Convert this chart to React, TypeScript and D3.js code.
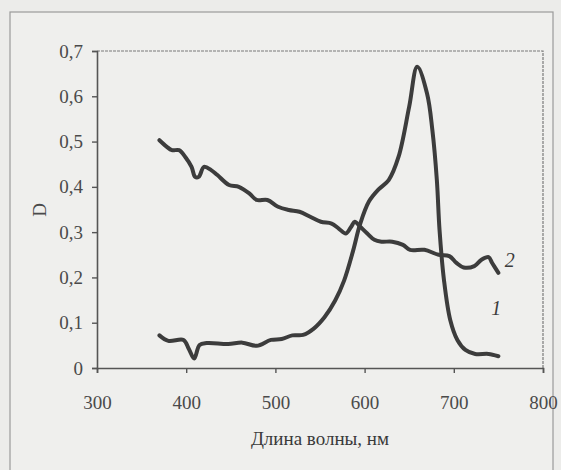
import React, { useRef, useEffect } from 'react';
import * as d3 from 'd3';

// curve 1 (absorption peak)
const wave1 = [370, 380, 397, 403, 409, 415, 423, 447, 463, 479, 495, 507, 519, 531, 543, 555, 567, 577, 587, 595, 605, 616, 627, 638, 650, 659, 670, 676, 681, 684, 689, 696, 704, 713, 724, 739, 750];
const dens1 = [0.072, 0.06, 0.062, 0.042, 0.021, 0.051, 0.055, 0.053, 0.056, 0.049, 0.062, 0.064, 0.072, 0.073, 0.087, 0.112, 0.149, 0.193, 0.258, 0.318, 0.368, 0.395, 0.415, 0.466, 0.577, 0.665, 0.606, 0.525, 0.415, 0.305, 0.194, 0.106, 0.062, 0.04, 0.031, 0.031, 0.026];

// curve 2 (declining)
const wave2 = [370, 378, 384, 392, 399, 406, 410, 414, 420, 428, 435, 448, 459, 471, 479, 491, 503, 515, 527, 539, 551, 563, 571, 579, 585, 589, 595, 603, 611, 619, 631, 643, 651, 667, 683, 695, 703, 711, 723, 731, 739, 743, 750];
const dens2 = [0.503, 0.489, 0.481, 0.481, 0.466, 0.444, 0.422, 0.422, 0.444, 0.437, 0.426, 0.404, 0.4, 0.385, 0.371, 0.371, 0.356, 0.349, 0.345, 0.334, 0.323, 0.319, 0.308, 0.297, 0.312, 0.323, 0.312, 0.297, 0.283, 0.279, 0.279, 0.272, 0.261, 0.261, 0.25, 0.247, 0.232, 0.222, 0.225, 0.239, 0.245, 0.232, 0.21];

const xTicks = [300, 400, 500, 600, 700, 800];
const yTicks = [0, 0.1, 0.2, 0.3, 0.4, 0.5, 0.6, 0.7];

const App = () => {
  const svgRef = useRef<SVGSVGElement>(null);

  useEffect(() => {
    const width = 561;
    const height = 470;
    const left = 97, right = 543, top = 51, bottom = 368;
    const font = 'Liberation Serif, Times New Roman, Tinos, DejaVu Serif, serif';
    const ink = '#3c3c3c';

    const svg = d3.select(svgRef.current);
    svg.selectAll('*').remove();
    svg.attr('width', width).attr('height', height);

    svg.append('rect').attr('width', width).attr('height', height).attr('fill', '#ececea');
    // scan border
    svg.append('rect')
      .attr('x', 10).attr('y', 12).attr('width', 543).attr('height', 470)
      .attr('fill', '#efefed').attr('stroke', '#9a9a9a').attr('stroke-width', 1.2);

    const x = d3.scaleLinear().domain([300, 800]).range([left, right]);
    const y = d3.scaleLinear().domain([0, 0.7]).range([bottom, top]);

    // frame top and right
    svg.append('path')
      .attr('d', `M${left},${top}H${right}V${bottom}`)
      .attr('fill', 'none').attr('stroke', '#7a7a7a').attr('stroke-width', 1.2)
      .attr('stroke-dasharray', '3,1');

    const xAxis = svg.append('g').attr('transform', `translate(0,${bottom})`)
      .call(d3.axisBottom(x).tickValues(xTicks).tickSize(5).tickFormat(d3.format('d')));
    const yAxis = svg.append('g').attr('transform', `translate(${left},0)`)
      .call(d3.axisLeft(y).tickValues(yTicks).tickSize(5)
        .tickFormat(d => (d === 0 ? '0' : d3.format('.1f')(d as number).replace('.', ','))));

    [xAxis, yAxis].forEach(g => {
      g.attr('font-family', font).attr('font-size', 19);
      g.select('.domain').attr('stroke', '#555').attr('stroke-width', 1.6);
      g.selectAll('.tick line').attr('stroke', '#555').attr('stroke-width', 1.4);
      g.selectAll('.tick text').attr('fill', '#4a4a4a');
    });
    xAxis.selectAll('.tick text').attr('dy', null).attr('y', 41);
    yAxis.selectAll('.tick text').attr('x', -14).attr('dy', '0.32em');

    const line = d3.line<[number, number]>()
      .x(d => x(d[0])).y(d => y(d[1]))
      .curve(d3.curveCatmullRom);

    const series = [
      wave1.map((w, i) => [w, dens1[i]] as [number, number]),
      wave2.map((w, i) => [w, dens2[i]] as [number, number]),
    ];
    svg.selectAll('path.curve').data(series).enter().append('path')
      .attr('class', 'curve')
      .attr('d', d => line(d))
      .attr('fill', 'none').attr('stroke', ink).attr('stroke-width', 4)
      .attr('stroke-linecap', 'round').attr('stroke-linejoin', 'round');

    // curve labels
    svg.append('text').attr('x', x(757)).attr('y', y(0.222)).text('2')
      .attr('font-family', font).attr('font-style', 'italic').attr('font-size', 20).attr('fill', ink);
    svg.append('text').attr('x', x(742)).attr('y', y(0.116)).text('1')
      .attr('font-family', font).attr('font-style', 'italic').attr('font-size', 20).attr('fill', ink);

    svg.append('text')
      .attr('x', (left + right) / 2).attr('y', 445).attr('text-anchor', 'middle')
      .attr('font-family', font).attr('font-size', 19).attr('fill', '#3a3a3a')
      .text('Длина волны, нм');

    svg.append('text')
      .attr('transform', `translate(46,210) rotate(-90)`).attr('text-anchor', 'middle')
      .attr('font-family', font).attr('font-size', 19).attr('fill', '#4a4a4a')
      .text('D');
  }, []);

  return <svg ref={svgRef} style={{ position: 'absolute', left: 0, top: 0 }}></svg>;
};

export default App;
